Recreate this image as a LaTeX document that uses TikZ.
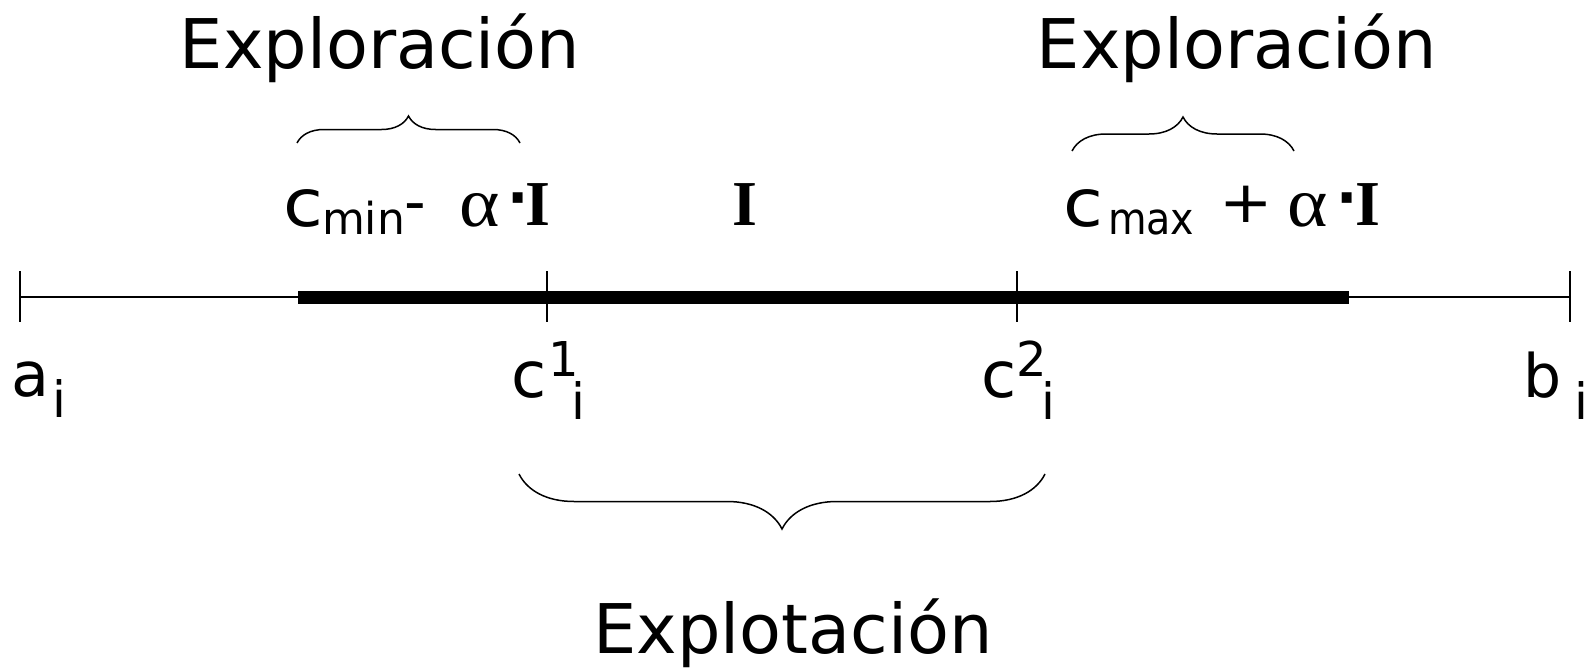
\documentclass[tikz,border=0pt]{standalone}
\usepackage{fontspec}
\setmainfont{DejaVu Sans}
\newfontfamily\serifgr{Liberation Serif}
\usetikzlibrary{decorations.pathreplacing}
\newcommand\fsz[1]{\fontsize{#1}{#1}\selectfont}
\begin{document}
\begin{tikzpicture}[x=1pt,y=-1pt,
  lab/.style={inner sep=0pt,outer sep=0pt,anchor=base west},
  labc/.style={inner sep=0pt,outer sep=0pt,anchor=center},
  title/.style={inner sep=0pt,outer sep=0pt,anchor=base,font=\fsz{68.5}},
  tickline/.style={line width=1.5pt},
  thinline/.style={line width=1.5pt},
  barline/.style={line width=13pt,line cap=butt},
  brc/.style={decorate,decoration={brace,amplitude=#1},line width=1.5pt}]
\useasboundingbox (0,0) rectangle (1595,669);
% axis
\coordinate (A) at (20,297);
\coordinate (C1) at (547,297);
\coordinate (C2) at (1017,297);
\coordinate (B) at (1570,297);
\coordinate (L) at (298,297);
\coordinate (R) at (1349,297);
\draw[thinline] (A) -- (B);
\draw[barline] (L) -- (R);
\foreach \p in {A,C1,C2,B}{
  \draw[tickline] ([yshift=26pt]\p) -- ([yshift=-25pt]\p);
}
% titles
\node[title] (ex1) at (380,68) {Exploración};
\node[title] (ex2) at (1237,68) {Exploración};
\node[title] (expl) at (793,653) {Explotación};
% braces
\coordinate (b1l) at (297,143); \coordinate (b1r) at (520,143);
\draw[brc=27pt] (b1l) -- (b1r);
\coordinate (b2l) at (1072,151); \coordinate (b2r) at (1294,151);
\draw[brc=34pt] (b2l) -- (b2r);
\coordinate (b3l) at (519,474); \coordinate (b3r) at (1045,474);
\draw[brc=55pt] (b3r) -- (b3l);
% axis labels
\node[lab] (la) at (11,396) {\fsz{62}a};
\node[lab] (lai) at (52,417) {\fsz{50}i};
\node[lab] (lc1) at (511,397) {\fsz{64}c};
\node[lab] (lc1s) at (548,376) {\fsz{48}1};
\node[lab] (lc1i) at (571,419) {\fsz{50}i};
\node[lab] (lc2) at (981,397) {\fsz{64}c};
\node[lab] (lc2s) at (1016,376) {\fsz{48}2};
\node[lab] (lc2i) at (1041,419) {\fsz{50}i};
\node[lab] (lb) at (1523,397) {\fsz{60}b};
\node[lab] (lbi) at (1574,419) {\fsz{50}i};
% middle I
\node[lab] (mI) at (732,225) {\fsz{64}\serifgr\bfseries I};
% c_min - alpha . I
\node[lab] (m1) at (283,226) {\fsz{66}\scalebox{1.1}[1]{c}};
\node[lab] (m2) at (322,234) {\fsz{44}min};
\node[lab] (m3) at (404,222) {\fsz{60}-};
\node[lab] (m4) at (459,226) {\fsz{70}\serifgr\scalebox{1.1}[1]{α}};
\node[labc] (m5) at (518,205) {\fsz{56}\bfseries ·};
\node[lab] (m6) at (525,225) {\fsz{64}\serifgr\bfseries I};
% c_max + alpha . I
\node[lab] (x1) at (1063,226) {\fsz{66}\scalebox{1.1}[1]{c}};
\node[lab] (x2) at (1108,234) {\fsz{44}\scalebox{0.9}[1]{max}};
\node[labc] (x3) at (1246,204) {\fsz{58}\scalebox{1.1}[1]{+}};
\node[lab] (x4) at (1287,226) {\fsz{70}\serifgr\scalebox{1.1}[1]{α}};
\node[labc] (x5) at (1347,205) {\fsz{56}\bfseries ·};
\node[lab] (x6) at (1355,225) {\fsz{64}\serifgr\bfseries I};
\end{tikzpicture}
\end{document}
